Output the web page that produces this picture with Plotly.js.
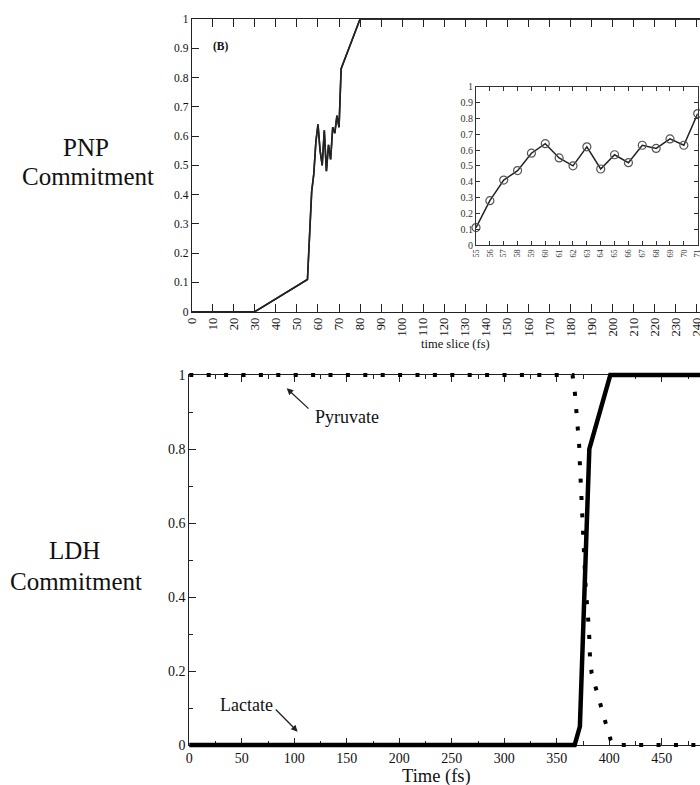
<!DOCTYPE html>
<html>
<head>
<meta charset="utf-8">
<script src="https://cdn.plot.ly/plotly-3.0.1.min.js"></script>
<style>html,body{margin:0;padding:0;background:#fff;}#chart{width:700px;height:785px;}</style>
</head>
<body>
<div id="chart"></div>
<script>
// PNP commitment (panel B) - main curve
var pnpTime  = [0, 10, 20, 30, 55, 56, 57, 58, 59, 60, 61, 62, 63, 64, 65, 66, 67, 68, 69, 70, 71, 80, 250];
var pnpValue = [0, 0, 0, 0, 0.11, 0.28, 0.41, 0.47, 0.58, 0.64, 0.55, 0.50, 0.62, 0.48, 0.57, 0.52, 0.63, 0.61, 0.67, 0.63, 0.83, 1, 1];
// inset (time slices 55-71)
var insetTime  = [55, 56, 57, 58, 59, 60, 61, 62, 63, 64, 65, 66, 67, 68, 69, 70, 71];
var insetValue = [0.11, 0.28, 0.41, 0.47, 0.58, 0.64, 0.55, 0.50, 0.62, 0.48, 0.57, 0.52, 0.63, 0.61, 0.67, 0.63, 0.83];
// LDH commitment
var lactateTime  = [0, 367, 372, 381, 401, 500];
var lactateValue = [0, 0, 0.05, 0.80, 1, 1];
var pyruvateTime  = [0, 365, 367.3, 368.9, 370.5, 371.4, 372, 373, 373.7, 374.3, 375.2, 375.9, 377.5, 379, 380, 381, 381.6, 383.2, 387.3, 392, 396.5, 401.3, 404, 500];
var pyruvateValue = [1, 1, 0.95, 0.90, 0.856, 0.806, 0.76, 0.71, 0.667, 0.619, 0.572, 0.522, 0.428, 0.383, 0.336, 0.288, 0.24, 0.194, 0.15, 0.10, 0.06, 0.014, 0, 0];
// labels
var sideLabels = ['PNP', 'Commitment', 'LDH', 'Commitment'];
var seriesLabels = ['Pyruvate', 'Lactate'];
var panelLabel = '(B)';
var topXTitle = 'time slice (fs)';
var bottomXTitle = 'Time (fs)';

var FONT = "'Liberation Serif', 'Times New Roman', Times, serif";
var W = 700, H = 785;
function px(x){return x / W;}
function py(y){return 1 - y / H;}

// pixel geometry of the three plot areas
var topBox = {l: 191.7, r: 700, t: 19, b: 311.7, x0: 0, x1: 241.5};
var insetBox = {l: 476, r: 697.7, t: 86.7, b: 245};
var botBox = {l: 189.3, r: 700, t: 375, b: 745, x0: 0, x1: 486.4};
var PAD = 5; // invisible overlay subplots, slightly larger, so lines lying on the frame are not clipped

function overlay(box, xname, yname){
  var kx = (box.x1 - box.x0) / (box.r - box.l);
  var ky = 1 / (box.b - box.t);
  return {
    x: {domain: [px(box.l - PAD), 1], range: [box.x0 - PAD * kx, box.x1], visible: false, anchor: yname, fixedrange: true},
    y: {domain: [py(box.b + PAD), py(box.t - PAD)], range: [-PAD * ky, 1 + PAD * ky], visible: false, anchor: xname, fixedrange: true}
  };
}
var ovTop = overlay(topBox, 'x4', 'y4');
var ovBot = overlay(botBox, 'x5', 'y5');

var traces = [
  {x: pnpTime, y: pnpValue, xaxis: 'x', yaxis: 'y', mode: 'lines',
   line: {color: '#222', width: 1.6}, hoverinfo: 'skip'},
  {x: pnpTime, y: pnpValue, xaxis: 'x4', yaxis: 'y4', mode: 'lines',
   line: {color: '#222', width: 1.6}, hoverinfo: 'skip'},
  {x: insetTime, y: insetValue, xaxis: 'x2', yaxis: 'y2', mode: 'lines+markers', cliponaxis: false,
   line: {color: '#222', width: 1.5},
   marker: {symbol: 'circle-open', size: 8, color: '#555', line: {width: 1.2, color: '#555'}}, hoverinfo: 'skip'},
  {x: lactateTime, y: lactateValue, xaxis: 'x5', yaxis: 'y5', mode: 'lines',
   line: {color: '#000', width: 4.5}, hoverinfo: 'skip'},
  {x: pyruvateTime, y: pyruvateValue, xaxis: 'x5', yaxis: 'y5', mode: 'lines',
   line: {color: '#000', width: 4, dash: '4px,13.4px'}, hoverinfo: 'skip'}
];

function axisBase(size){
  return {
    showline: true, linecolor: '#222', linewidth: 1, showgrid: false, zeroline: false,
    ticks: 'inside', tickcolor: '#222', tickwidth: 1,
    tickfont: {family: FONT, size: size, color: '#111'}, automargin: false, fixedrange: true
  };
}

var layout = {
  width: W, height: H,
  margin: {l: 0, r: 0, t: 0, b: 0},
  paper_bgcolor: '#fff', plot_bgcolor: 'rgba(0,0,0,0)',
  showlegend: false,
  // PNP panel frame
  xaxis: Object.assign(axisBase(12.5), {
    domain: [px(topBox.l), 1], range: [topBox.x0, topBox.x1], dtick: 10, tick0: 0,
    ticklen: 8, tickangle: -90, mirror: 'ticks', anchor: 'y', ticklabeloverflow: 'allow'
  }),
  yaxis: Object.assign(axisBase(11.5), {
    domain: [py(topBox.b), py(topBox.t)], range: [0, 1], dtick: 0.1, tick0: 0,
    ticklen: 7, anchor: 'x'
  }),
  xaxis4: ovTop.x, yaxis4: ovTop.y,
  xaxis5: ovBot.x, yaxis5: ovBot.y,
  // inset
  xaxis2: Object.assign(axisBase(8.3), {
    domain: [px(insetBox.l), px(insetBox.r)], range: [55, 71], dtick: 1, tick0: 55,
    ticklen: 4, tickangle: -90, mirror: 'ticks', anchor: 'y2', linecolor: '#333', tickcolor: '#333',
    ticklabeloverflow: 'allow', tickfont: {family: FONT, size: 8.3, color: '#333'}
  }),
  yaxis2: Object.assign(axisBase(10), {
    domain: [py(insetBox.b), py(insetBox.t)], range: [0, 1], dtick: 0.1, tick0: 0,
    ticklen: 4, mirror: 'ticks', anchor: 'x2', linecolor: '#333', tickcolor: '#333',
    tickfont: {family: FONT, size: 10, color: '#333'}
  }),
  // LDH panel frame
  xaxis3: Object.assign(axisBase(14), {
    domain: [px(botBox.l), 1], range: [botBox.x0, botBox.x1], dtick: 50, tick0: 0,
    ticklen: 7, mirror: 'ticks', anchor: 'y3',
    minor: {dtick: 25, ticklen: 4, ticks: 'inside', tickcolor: '#222', tickwidth: 1}
  }),
  yaxis3: Object.assign(axisBase(14), {
    domain: [py(botBox.b), py(botBox.t)], range: [0, 1], dtick: 0.2, tick0: 0,
    ticklen: 7, anchor: 'x3',
    minor: {dtick: 0.1, ticklen: 4, ticks: 'inside', tickcolor: '#222', tickwidth: 1}
  }),
  annotations: [
    {xref: 'paper', yref: 'paper', x: px(85.5), y: py(148), text: sideLabels[0], showarrow: false,
     xanchor: 'center', yanchor: 'middle', font: {family: FONT, size: 25, color: '#111'}},
    {xref: 'paper', yref: 'paper', x: px(88.3), y: py(177), text: sideLabels[1], showarrow: false,
     xanchor: 'center', yanchor: 'middle', font: {family: FONT, size: 25, color: '#111'}},
    {xref: 'paper', yref: 'paper', x: px(74.7), y: py(550), text: sideLabels[2], showarrow: false,
     xanchor: 'center', yanchor: 'middle', font: {family: FONT, size: 25, color: '#111'}},
    {xref: 'paper', yref: 'paper', x: px(75.8), y: py(581), text: sideLabels[3], showarrow: false,
     xanchor: 'center', yanchor: 'middle', font: {family: FONT, size: 25, color: '#111'}},
    {xref: 'paper', yref: 'paper', x: px(220.5), y: py(47), text: '<b>' + panelLabel + '</b>', showarrow: false,
     xanchor: 'center', yanchor: 'middle', font: {family: FONT, size: 11.5, color: '#111'}},
    {xref: 'paper', yref: 'paper', x: px(455), y: py(344), text: topXTitle, showarrow: false,
     xanchor: 'center', yanchor: 'middle', font: {family: FONT, size: 12.5, color: '#111'}},
    {xref: 'paper', yref: 'paper', x: px(436), y: py(776), text: bottomXTitle, showarrow: false,
     xanchor: 'center', yanchor: 'middle', font: {family: FONT, size: 18.5, color: '#111'}},
    // Pyruvate label + arrow
    {xref: 'x3', yref: 'y3', x: 150.2, y: 0.886, text: seriesLabels[0], showarrow: false,
     xanchor: 'center', yanchor: 'middle', font: {family: FONT, size: 18, color: '#111'}},
    {xref: 'x3', yref: 'y3', x: 92.8, y: 0.964, text: '', showarrow: true, ax: 23.3, ay: 21.7,
     arrowhead: 2, arrowsize: 1, arrowwidth: 1.3, arrowcolor: '#222'},
    // Lactate label + arrow
    {xref: 'x3', yref: 'y3', x: 54, y: 0.108, text: seriesLabels[1], showarrow: false,
     xanchor: 'center', yanchor: 'middle', font: {family: FONT, size: 18, color: '#111'}},
    {xref: 'x3', yref: 'y3', x: 103.2, y: 0.036, text: '', showarrow: true, ax: -23.4, ay: -23.7,
     arrowhead: 2, arrowsize: 1, arrowwidth: 1.3, arrowcolor: '#222'}
  ]
};

Plotly.newPlot('chart', traces, layout, {staticPlot: true, displayModeBar: false});
</script>
</body>
</html>
